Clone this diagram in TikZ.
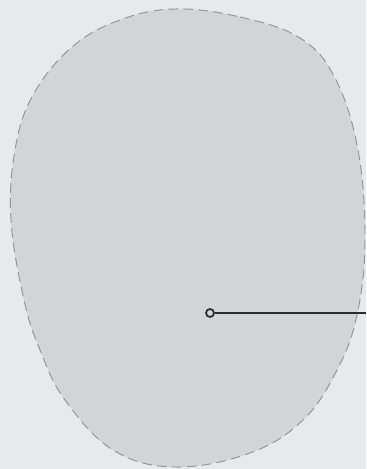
\documentclass[tikz,border=0pt]{standalone}
\usepackage{tikz}
\usetikzlibrary{positioning}
\definecolor{bgcol}{HTML}{E8E9EB}
\definecolor{blobfill}{HTML}{D3D4D6}
\definecolor{blobedge}{HTML}{959595}
\definecolor{pincol}{HTML}{2B2B2B}
\tikzset{
  blob/.style={fill=blobfill, draw=blobedge, line width=0.55pt, dash pattern=on 5.5pt off 3pt},
  pinhead/.style={circle, draw=pincol, fill=blobfill, line width=1pt, minimum size=0.16cm, inner sep=0pt},
  pinline/.style={draw=pincol, line width=1.1pt}
}

\begin{document}
\begin{tikzpicture}[x=0.02cm, y=-0.02cm]
  % page
  \fill[bgcol] (0,0) rectangle (366,469);
  \useasboundingbox (0,0) rectangle (366,469);
  % outline of the region
  \draw[blob] plot[smooth cycle, tension=0.65] coordinates {
    (175,9) (240,17) (300,38) (335,78) (358,150) (365,240) (357,315)
    (337,370) (303,420) (250,453) (175,467) (113,450) (65,400) (40,350)
    (24,300) (11,220) (15,150) (33,95) (72,47) (120,20)};
  % marker and its leader
  \node[pinhead] (pin) at (210,313) {};
  \coordinate (edge) at (366,313);
  \draw[pinline] (pin) -- (edge);
\end{tikzpicture}
\end{document}
